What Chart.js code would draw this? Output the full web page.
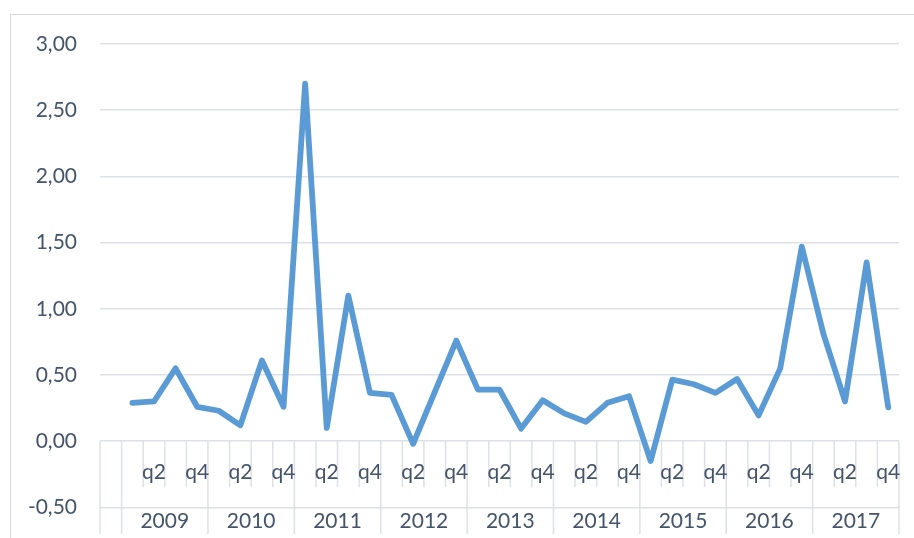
<!DOCTYPE html>
<html>
<head>
<meta charset="utf-8">
<script src="https://cdn.jsdelivr.net/npm/chart.js@4/dist/chart.umd.min.js"></script>
<style>
  body { margin: 0; background: #fff; }
  #wrap { width: 914px; height: 538px; position: relative; }
</style>
</head>
<body>
<div id="wrap"><canvas id="chart"></canvas></div>
<script>
// Data
const years = ['2009', '2010', '2011', '2012', '2013', '2014', '2015', '2016', '2017'];
const quarters = ['q1', 'q2', 'q3', 'q4'];
const values = [
    0.29, 0.30, 0.55, 0.26,
    0.23, 0.12, 0.61, 0.26,
    2.70, 0.10, 1.10, 0.365,
    0.35, -0.02, 0.37, 0.76,
    0.39, 0.39, 0.095, 0.31,
    0.21, 0.146, 0.29, 0.34,
    -0.15, 0.465, 0.43, 0.365,
    0.47, 0.195, 0.55, 1.47,
    0.81, 0.30, 1.35, 0.255
];
const yTicks = [-0.5, 0, 0.5, 1, 1.5, 2, 2.5, 3];

// one empty category in front, as in the original sheet
const labels = [''];
years.forEach(yr => quarters.forEach(q => labels.push(yr + ' ' + q)));
const lineData = [null].concat(values);

const textColor = '#44546a';
const gridColor = '#dde1e6';
const labelFont = "Lato, 'Open Sans', sans-serif";

// Draws the frame around the chart
const framePlugin = {
    id: 'frame',
    beforeDraw(chart) {
        const ctx = chart.ctx;
        ctx.save();
        ctx.strokeStyle = '#d9d9d9';
        ctx.lineWidth = 1;
        ctx.strokeRect(10.5, 14.5, 1000, 1000);
        ctx.restore();
    }
};

// Two-row category table (quarters / years) sitting under the zero line
const tablePlugin = {
    id: 'quarterTable',
    beforeDatasetsDraw(chart) {
        const ctx = chart.ctx;
        const x = chart.scales.x;
        const y = chart.scales.y;
        const y0 = y.getPixelForValue(0);
        const yLow = y.getPixelForValue(-0.5);
        const qBottom = y0 + 46;
        const bottom = chart.height - 4;
        const band = x.getPixelForValue(1) - x.getPixelForValue(0);
        const edge = i => x.getPixelForValue(i) - band / 2;

        ctx.save();
        ctx.strokeStyle = gridColor;
        ctx.lineWidth = 1.5;
        for (let i = 0; i <= labels.length; i++) {
            const px = edge(i);
            const isYearEdge = i === 0 || (i - 1) % 4 === 0;
            ctx.beginPath();
            ctx.moveTo(px, y0);
            ctx.lineTo(px, isYearEdge ? bottom : qBottom);
            ctx.stroke();
        }

        ctx.fillStyle = textColor;
        ctx.font = '21px ' + labelFont;
        ctx.textAlign = 'center';
        ctx.textBaseline = 'middle';
        // quarter labels: only every second one fits
        labels.forEach((lab, i) => {
            if (i === 0 || i % 2 !== 0) return;
            ctx.fillText(lab.split(' ')[1], x.getPixelForValue(i), y0 + 31);
        });
        // year labels centred over their four quarters
        years.forEach((yr, k) => {
            const first = 1 + k * 4;
            const mid = (edge(first) + edge(first + 4)) / 2;
            ctx.fillText(yr, mid, (yLow + bottom) / 2 + 1);
        });
        ctx.restore();
    }
};

const ctx = document.getElementById('chart').getContext('2d');
const chart = new Chart(ctx, {
    type: 'line',
    data: {
        labels: labels,
        datasets: [{
            data: lineData,
            borderColor: '#5b9bd5',
            borderWidth: 5.8,
            borderCapStyle: 'round',
            borderJoinStyle: 'round',
            tension: 0,
            pointRadius: 0,
            fill: false
        }]
    },
    options: {
        responsive: true,
        maintainAspectRatio: false,
        animation: false,
        layout: {
            // chart area 100..899 x 44..507
            padding: { left: 0, right: 15, top: 44, bottom: 30.6 }
        },
        plugins: {
            legend: { display: false },
            tooltip: { enabled: false }
        },
        scales: {
            x: {
                type: 'category',
                offset: true,
                display: false
            },
            y: {
                min: -0.5,
                max: 3,
                afterBuildTicks(scale) {
                    scale.ticks = yTicks.map(v => ({ value: v }));
                },
                afterFit(scale) {
                    scale.width = 100;
                    // the label padding would otherwise push the chart area up
                    scale.paddingTop = 0;
                    scale.paddingBottom = 0;
                },
                border: { display: false },
                grid: {
                    color: gridColor,
                    lineWidth: 1.5,
                    drawTicks: false
                },
                ticks: {
                    padding: 23,
                    color: textColor,
                    font: { family: labelFont, size: 21 },
                    callback: v => v.toFixed(2).replace('.', ',')
                }
            }
        }
    },
    plugins: [framePlugin, tablePlugin]
});
</script>
</body>
</html>
